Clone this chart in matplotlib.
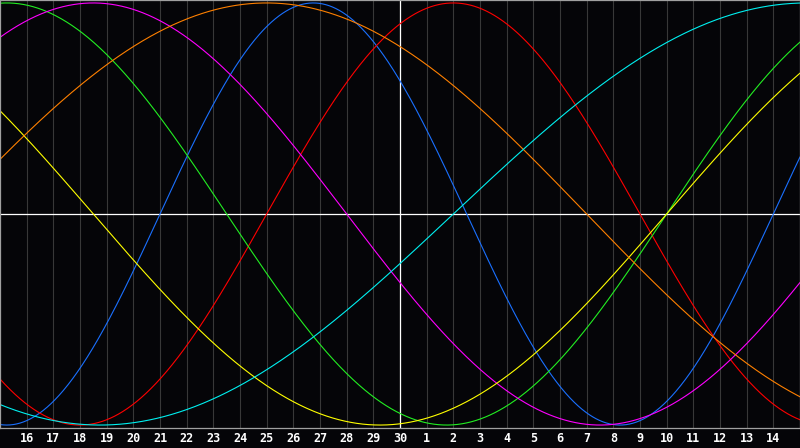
import matplotlib
matplotlib.use('Agg')
import matplotlib.pyplot as plt
import numpy as np

# biorhythm cycles: length in days and colour
periods = [23, 28, 33, 38, 43, 48, 53]
colors = ['#1a70ff', '#ff0000', '#22ee22', '#ff00ff', '#ffff00', '#ff8000', '#00f0f0']

# days since birth at the left edge (day 15)
days_at_start = 24098
n_days = 30

day_labels = [16, 17, 18, 19, 20, 21, 22, 23, 24, 25, 26, 27, 28, 29, 30,
              1, 2, 3, 4, 5, 6, 7, 8, 9, 10, 11, 12, 13, 14]
today = 15   # index of the marked day

bg = '#050508'
fig = plt.figure(figsize=(8, 4.48), dpi=100, facecolor=bg)
ax = fig.add_axes([0, 20 / 448, 1, 428 / 448], facecolor=bg)

t = np.linspace(0, n_days, 1201)
for p, c in zip(periods, colors):
    ax.plot(t, np.sin(2 * np.pi * (days_at_start + t) / p), color=c, lw=0.8)

ticks = np.arange(1, n_days)
for x in ticks:
    ax.axvline(x, color='#383838', lw=0.8, zorder=0)
ax.axvline(today, color='white', lw=0.9, zorder=1)
ax.axhline(0, color='white', lw=0.9, zorder=1)

ax.set_xlim(0, n_days)
ax.set_ylim(-1.014, 1.014)
ax.set_yticks([])
ax.set_xticks(ticks)
ax.set_xticklabels([str(d) for d in day_labels], color='white',
                   fontfamily='DejaVu Sans Mono', fontweight='bold', fontsize=8.5)
ax.tick_params(axis='x', length=0, pad=3)
for s in ax.spines.values():
    s.set_color('#a0a0a0')
    s.set_linewidth(0.9)

fig.savefig('out.png', dpi=100, facecolor=bg)
